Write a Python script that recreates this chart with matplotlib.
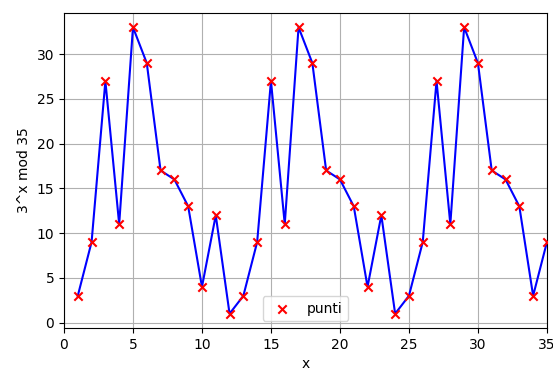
import matplotlib
matplotlib.use("Agg")
import matplotlib.pyplot as plt

x = list(range(1, 36))
y = [3, 9, 27, 11, 33, 29, 17, 16, 13, 4, 12, 1,
     3, 9, 27, 11, 33, 29, 17, 16, 13, 4, 12, 1,
     3, 9, 27, 11, 33, 29, 17, 16, 13, 3, 9]

fig = plt.figure(figsize=(5.53, 3.69), dpi=100)
ax = fig.add_axes([0.1157, 0.111, 0.8733, 0.854])
ax.plot(x, y, c="b")
ax.scatter(x, y, c="r", marker="x", label="punti", zorder=3)
ax.set_xlim(0, 35)
ax.set_xlabel("x")
ax.set_ylabel("3^x mod 35")
ax.grid(True)
ax.legend(loc="lower center")
fig.savefig("out.png", dpi=100)
